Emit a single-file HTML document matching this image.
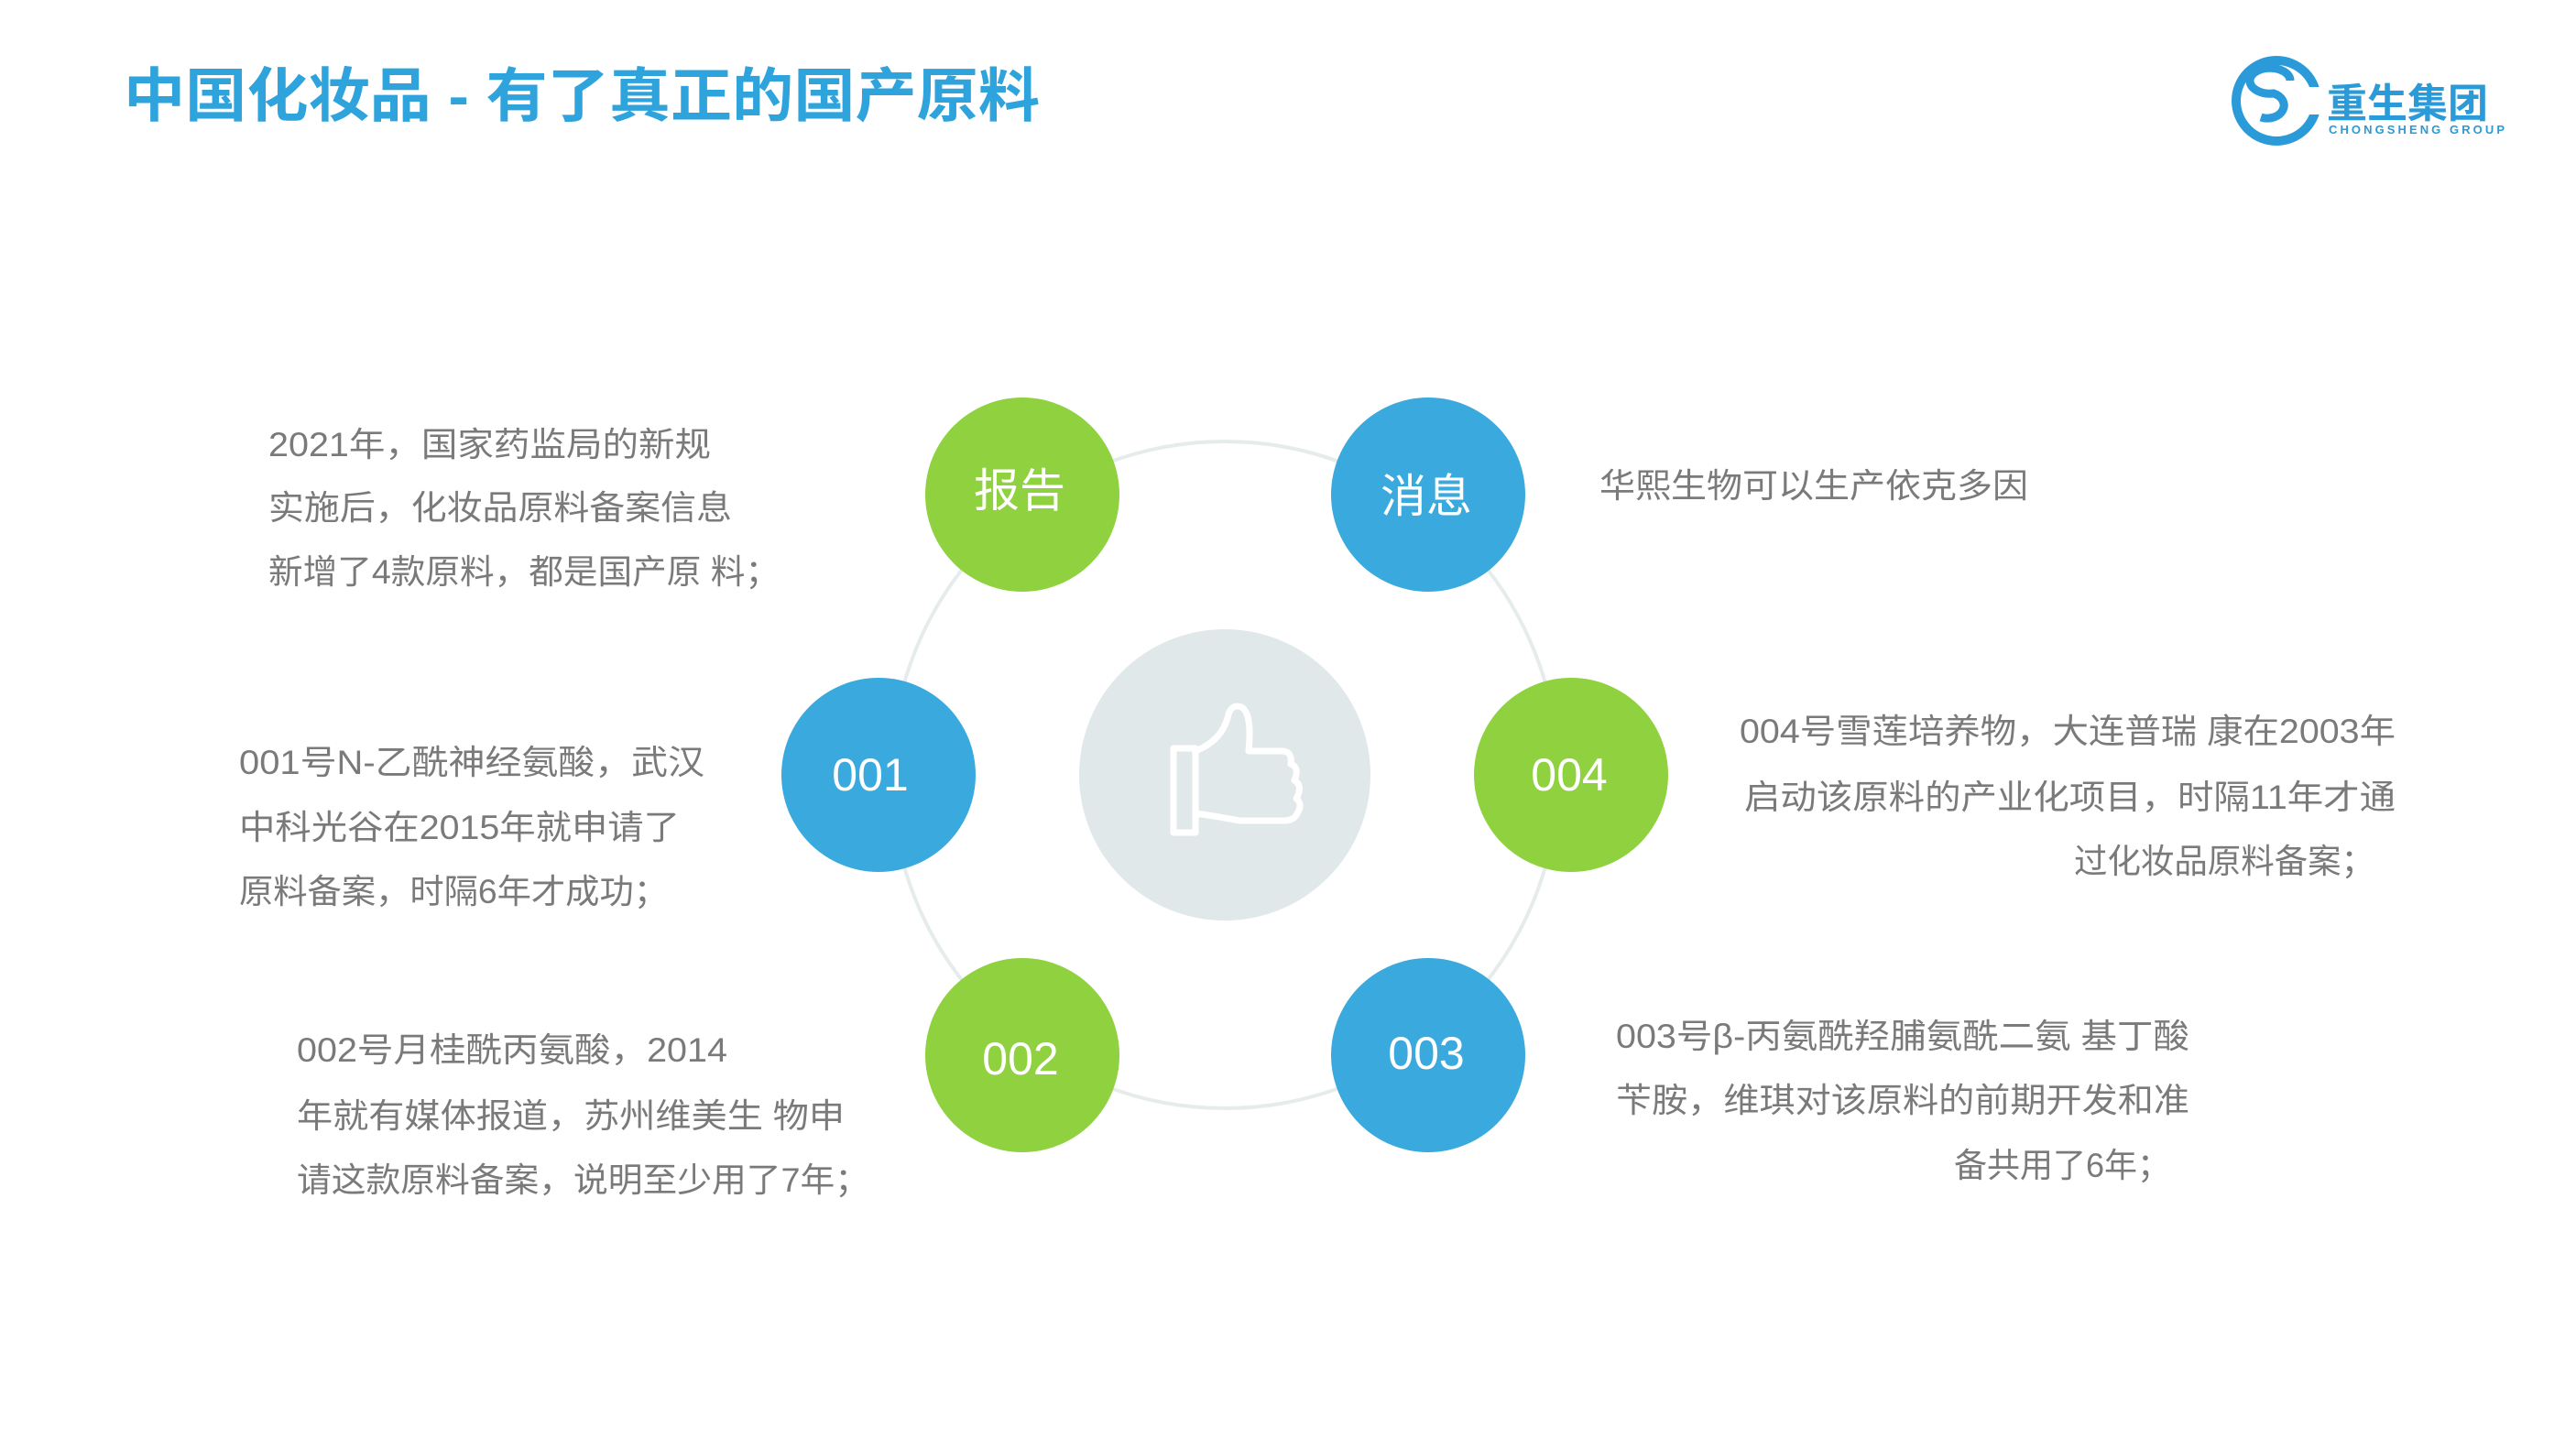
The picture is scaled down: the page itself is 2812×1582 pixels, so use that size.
<!DOCTYPE html>
<html><head><meta charset="utf-8"><style>
html,body{margin:0;padding:0;background:#fff;}
body{width:2812px;height:1582px;overflow:hidden;position:relative;}
svg{position:absolute;left:0;top:0;}
text{font-family:"Liberation Sans","Noto Sans CJK SC",sans-serif;}
.t{font-size:37px;fill:#7a7a7a;}
.c{font-size:50px;fill:#fff;text-anchor:middle;dominant-baseline:central;}
</style></head><body>
<svg width="2812" height="1582" viewBox="0 0 2812 1582">
<text x="135" y="127" font-size="64" font-weight="bold" fill="#2ea3dc" textLength="1000" lengthAdjust="spacingAndGlyphs">中国化妆品 - 有了真正的国产原料</text>
<g transform="translate(-10,0)">
<circle cx="2495" cy="110" r="44" fill="none" stroke="#2a9bd8" stroke-width="10"/>
<rect x="2508" y="95" width="40" height="30" fill="#fff"/>
<path d="M2510 88 A22 14 0 1 0 2492 102 A18 14 0 1 1 2478 128" fill="none" stroke="#2a9bd8" stroke-width="9"/>
<text x="2550" y="128" font-size="44" font-weight="bold" fill="#2a9bd8">重生集团</text>
<text x="2552" y="146" font-size="13" font-weight="bold" fill="#2a9bd8" textLength="192">CHONGSHENG GROUP</text>
</g>
<circle cx="1337" cy="846" r="364" fill="none" stroke="#e6ecec" stroke-width="4"/>
<circle cx="1337" cy="846" r="159" fill="#e1e8ea"/>
<path d="M1281 817 h24 v92 h-24 z M1305 820 q30 -12 36 -40 q4 -12 14 -8 q12 6 8 48 h36 q12 0 10 14 q10 4 4 18 q10 6 2 20 q8 6 0 18 q-4 6 -14 6 h-48 q-20 -4 -48 -8" fill="none" stroke="#fff" stroke-width="7" stroke-linejoin="round"/>
<g>
<circle cx="1116" cy="540" r="106" fill="#8fd13f"/>
<circle cx="1559" cy="540" r="106" fill="#3aa9de"/>
<circle cx="959" cy="846" r="106" fill="#3aa9de"/>
<circle cx="1715" cy="846" r="106" fill="#8fd13f"/>
<circle cx="1116" cy="1152" r="106" fill="#8fd13f"/>
<circle cx="1559" cy="1152" r="106" fill="#3aa9de"/>
<text class="c" x="1113" y="536">报告</text>
<text class="c" x="1557" y="542">消息</text>
<text class="c" x="950" y="846">001</text>
<text class="c" x="1713" y="846">004</text>
<text class="c" x="1114" y="1156">002</text>
<text class="c" x="1557" y="1150">003</text>
</g>
<g>
<text class="t" x="293" y="498" textLength="483" lengthAdjust="spacingAndGlyphs">2021年，国家药监局的新规</text>
<text class="t" x="293" y="567" textLength="506" lengthAdjust="spacingAndGlyphs">实施后，化妆品原料备案信息</text>
<text class="t" x="293" y="637" textLength="558" lengthAdjust="spacingAndGlyphs">新增了4款原料，都是国产原 料；</text>
<text class="t" x="1746" y="543" textLength="468" lengthAdjust="spacingAndGlyphs">华熙生物可以生产依克多因</text>
<text class="t" x="261" y="845" textLength="508" lengthAdjust="spacingAndGlyphs">001号N-乙酰神经氨酸，武汉</text>
<text class="t" x="261" y="916" textLength="481" lengthAdjust="spacingAndGlyphs">中科光谷在2015年就申请了</text>
<text class="t" x="261" y="986" textLength="468" lengthAdjust="spacingAndGlyphs">原料备案，时隔6年才成功；</text>
<text class="t" x="1899" y="811" textLength="716" lengthAdjust="spacingAndGlyphs">004号雪莲培养物，大连普瑞 康在2003年</text>
<text class="t" x="1904" y="883" textLength="711" lengthAdjust="spacingAndGlyphs">启动该原料的产业化项目，时隔11年才通</text>
<text class="t" x="2264" y="953" textLength="328" lengthAdjust="spacingAndGlyphs">过化妆品原料备案；</text>
<text class="t" x="324" y="1159" textLength="470" lengthAdjust="spacingAndGlyphs">002号月桂酰丙氨酸，2014</text>
<text class="t" x="324" y="1231" textLength="598" lengthAdjust="spacingAndGlyphs">年就有媒体报道，苏州维美生 物申</text>
<text class="t" x="324" y="1301" textLength="625" lengthAdjust="spacingAndGlyphs">请这款原料备案，说明至少用了7年；</text>
<text class="t" x="1764" y="1144" textLength="626" lengthAdjust="spacingAndGlyphs">003号β-丙氨酰羟脯氨酰二氨 基丁酸</text>
<text class="t" x="1764" y="1214" textLength="626" lengthAdjust="spacingAndGlyphs">苄胺，维琪对该原料的前期开发和准</text>
<text class="t" x="2133" y="1285" textLength="236" lengthAdjust="spacingAndGlyphs">备共用了6年；</text>
</g>
</svg>
</body></html>
